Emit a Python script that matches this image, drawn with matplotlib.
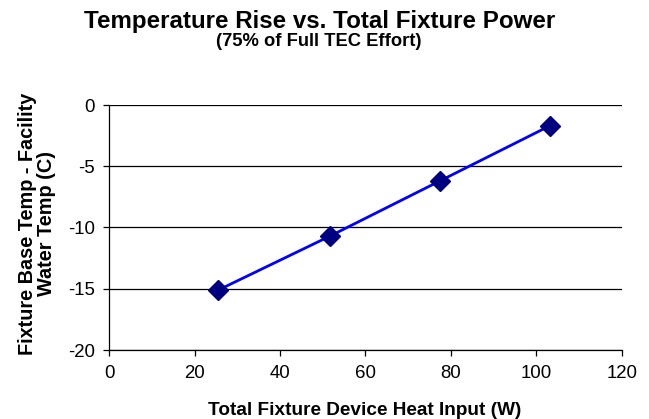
import matplotlib
matplotlib.use("Agg")
import matplotlib.pyplot as plt

power_w = [25.6, 51.7, 77.4, 103.1]
temp_rise_c = [-15.1, -10.7, -6.2, -1.7]
x_ticks = [0, 20, 40, 60, 80, 100, 120]
y_ticks = [0, -5, -10, -15, -20]

plt.rcParams['font.family'] = ['Liberation Sans', 'DejaVu Sans']

W, H = 649, 419
fig = plt.figure(figsize=(W/100, H/100), dpi=100)
ax = fig.add_axes([109/W, 1-350/H, (622-109)/W, (350-105)/H])

ax.plot(power_w, temp_rise_c, color='#0000FF', lw=2, marker='D', ms=10,
        markerfacecolor='#000080', markeredgecolor='#000080', zorder=3, clip_on=False)

ax.set_xlim(0, 120)
ax.set_ylim(-20, 0)
ax.set_xticks(x_ticks)
ax.set_yticks(y_ticks)
ax.set_xticklabels([str(v) for v in x_ticks])
ax.set_yticklabels([str(v).replace('-', '-') for v in y_ticks])
ax.yaxis.grid(True, color='black', lw=0.9)
ax.set_axisbelow(True)
for s in ['top', 'right']:
    ax.spines[s].set_visible(False)
for s in ['left', 'bottom']:
    ax.spines[s].set_linewidth(0.9)
ax.tick_params(axis='both', direction='out', length=4, width=0.9, labelsize=13.4)
ax.tick_params(axis='y', pad=6)
ax.tick_params(axis='x', pad=7)

fig.text(365/W, 1-415/H, 'Total Fixture Device Heat Input (W)', ha='center', va='baseline',
         fontsize=13.7, fontweight='bold')
fig.text(37/W, 1-224/H, 'Fixture Base Temp - Facility\nWater Temp (C)', ha='center', va='center',
         rotation=90, fontsize=14.3, fontweight='bold', linespacing=1.0, multialignment='center')

fig.text(320/W, 1-28/H, 'Temperature Rise vs. Total Fixture Power', ha='center', va='baseline',
         fontsize=17.4, fontweight='bold')
fig.text(319/W, 1-46.5/H, '(75% of Full TEC Effort)', ha='center', va='baseline',
         fontsize=13.2, fontweight='bold')

fig.savefig('out.png', dpi=100)
